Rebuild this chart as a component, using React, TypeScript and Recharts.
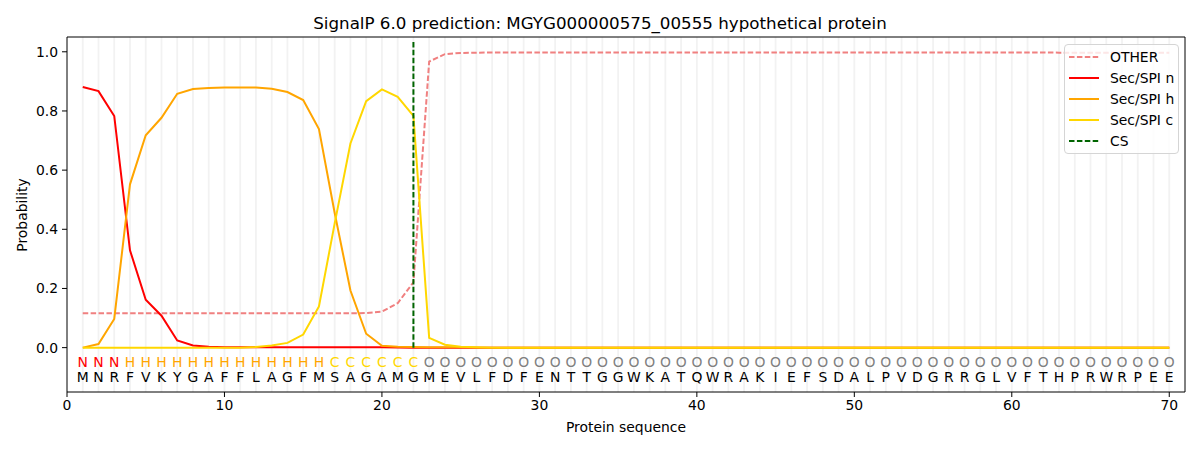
import React from "react";
import {
  ComposedChart,
  Line,
  Scatter,
  XAxis,
  YAxis,
  ReferenceLine,
} from "recharts";

const sequence = "MNRFVKYGAFFLAGFMSAGAMGMEVLFDFENTTGGWKATQWRAKIEFSDALPVDGRRGLVFTHPRWRPEE".split("");
const annotation = "NNNHHHHHHHHHHHHHCCCCCCOOOOOOOOOOOOOOOOOOOOOOOOOOOOOOOOOOOOOOOOOOOOOOOO".split("");

const otherProb = [
  0.116, 0.116, 0.116, 0.116, 0.116, 0.116, 0.116, 0.116, 0.116, 0.116,
  0.116, 0.116, 0.116, 0.116, 0.116, 0.116, 0.116, 0.116, 0.117, 0.122,
  0.15, 0.221, 0.967, 0.992, 0.996, 0.997, 0.998, 0.998, 0.998, 0.998,
  0.998, 0.998, 0.998, 0.998, 0.998, 0.998, 0.998, 0.998, 0.998, 0.998,
  0.998, 0.998, 0.998, 0.998, 0.998, 0.998, 0.998, 0.998, 0.998, 0.998,
  0.998, 0.998, 0.998, 0.998, 0.998, 0.998, 0.998, 0.998, 0.998, 0.998,
  0.998, 0.998, 0.997, 0.997, 0.997, 0.997, 0.997, 0.997, 0.997, 0.997,
];

const secN = [
  0.881, 0.867, 0.783, 0.329, 0.162, 0.108, 0.024, 0.007, 0.003, 0.001,
  0.001, 0.001, 0.001, 0.001, 0.001, 0.001, 0.001, 0.001, 0.001, 0.001,
  0, 0, 0, 0, 0, 0, 0, 0, 0, 0,
  0, 0, 0, 0, 0, 0, 0, 0, 0, 0,
  0, 0, 0, 0, 0, 0, 0, 0, 0, 0,
  0, 0, 0, 0, 0, 0, 0, 0, 0, 0,
  0, 0, 0, 0, 0, 0, 0, 0, 0, 0,
];

const secH = [
  0, 0.012, 0.097, 0.552, 0.718, 0.777, 0.858, 0.874, 0.878, 0.879,
  0.879, 0.879, 0.875, 0.864, 0.837, 0.739, 0.455, 0.193, 0.047, 0.006,
  0.003, 0.002, 0.001, 0.001, 0.001, 0, 0, 0, 0, 0,
  0, 0, 0, 0, 0, 0, 0, 0, 0, 0,
  0, 0, 0, 0, 0, 0, 0, 0, 0, 0,
  0, 0, 0, 0, 0, 0, 0, 0, 0, 0,
  0, 0, 0, 0, 0, 0, 0, 0, 0, 0,
];

const secC = [
  0, 0, 0, 0, 0, 0, 0, 0, 0, 0,
  0, 0.002, 0.007, 0.016, 0.044, 0.139, 0.42, 0.69, 0.833, 0.873,
  0.848, 0.783, 0.033, 0.01, 0.003, 0.001, 0, 0, 0, 0,
  0, 0, 0, 0, 0, 0, 0, 0, 0, 0,
  0, 0, 0, 0, 0, 0, 0, 0, 0, 0,
  0, 0, 0, 0, 0, 0, 0, 0, 0, 0,
  0, 0, 0, 0, 0, 0, 0, 0, 0, 0,
];

const csPosition = 22;
const xDomain = [0, 71];
const yDomain = [-0.15, 1.05];
const xTicks = [0, 10, 20, 30, 40, 50, 60, 70];
const yTicks = [0, 0.2, 0.4, 0.6, 0.8, 1.0];

const labelColors: Record<string, string> = {
  N: "#ff0000",
  H: "#ffa500",
  C: "#ffd700",
  O: "#808080",
};

const FONT = "'DejaVu Sans', sans-serif";
const DASH = "5.5 2.4";

const rows = sequence.map((aa, i) => ({
  x: i + 1,
  other: otherProb[i],
  n: secN[i],
  h: secH[i],
  c: secC[i],
}));

const annotRows = annotation.map((a, i) => ({ x: i + 1, y: -0.047, label: a }));
const seqRows = sequence.map((aa, i) => ({ x: i + 1, y: -0.098, label: aa }));

const legendItems = [
  { name: "OTHER", color: "#f08080", dashed: true },
  { name: "Sec/SPI n", color: "#ff0000", dashed: false },
  { name: "Sec/SPI h", color: "#ffa500", dashed: false },
  { name: "Sec/SPI c", color: "#ffd700", dashed: false },
  { name: "CS", color: "#006400", dashed: true },
];

function letterShape(colorFor: (l: string) => string) {
  return (props: any) => (
    <text
      x={props.cx}
      y={props.cy}
      textAnchor="middle"
      dominantBaseline="central"
      fontSize={13.9}
      fontFamily={FONT}
      fill={colorFor(props.payload.label)}
    >
      {props.payload.label}
    </text>
  );
}

export default function App() {
  const tickStyle = { fontSize: 13.9, fill: "#000", fontFamily: FONT };
  return (
    <div style={{ position: "absolute", left: 0, top: 0, width: 1200, height: 450, background: "#fff", fontFamily: FONT }}>
      <div style={{ position: "absolute", left: 0, width: 1200, top: 13, textAlign: "center", fontSize: 16.7, color: "#000" }}>
        SignalP 6.0 prediction: MGYG000000575_00555 hypothetical protein
      </div>
      <ComposedChart
        width={1200}
        height={450}
        data={rows}
        margin={{ top: 37, right: 15, left: 7, bottom: 28 }}
      >
        <XAxis
          dataKey="x"
          type="number"
          domain={xDomain}
          ticks={xTicks}
          tickSize={5}
          tickMargin={3}
          tick={tickStyle}
          stroke="#000"
          height={30}
          allowDataOverflow
        />
        <YAxis
          type="number"
          domain={yDomain}
          ticks={yTicks}
          tickFormatter={(v: number) => v.toFixed(1)}
          tickSize={5}
          tickMargin={4}
          tick={tickStyle}
          stroke="#000"
          width={60}
          allowDataOverflow
        />
        {rows.map((r) => (
          <ReferenceLine key={r.x} x={r.x} stroke="#f2f2f2" strokeWidth={1.8} />
        ))}
        <Line dataKey="other" stroke="#f08080" strokeWidth={2} strokeDasharray={DASH} dot={false} isAnimationActive={false} />
        <Line dataKey="n" stroke="#ff0000" strokeWidth={2} dot={false} isAnimationActive={false} />
        <Line dataKey="h" stroke="#ffa500" strokeWidth={2} dot={false} isAnimationActive={false} />
        <Line dataKey="c" stroke="#ffd700" strokeWidth={2} dot={false} isAnimationActive={false} />
        <ReferenceLine
          segment={[{ x: csPosition, y: 0 }, { x: csPosition, y: 1.04 }]}
          stroke="#006400"
          strokeWidth={2}
          strokeDasharray={DASH}
        />
        <Scatter data={annotRows} dataKey="y" isAnimationActive={false} shape={letterShape((l) => labelColors[l])} />
        <Scatter data={seqRows} dataKey="y" isAnimationActive={false} shape={letterShape(() => "#000")} />
        <ReferenceLine y={yDomain[1]} stroke="#000" strokeWidth={1} />
        <ReferenceLine x={xDomain[1]} stroke="#000" strokeWidth={1} />
      </ComposedChart>
      <div style={{ position: "absolute", left: 67, width: 1118, top: 419, textAlign: "center", fontSize: 13.9, color: "#000" }}>
        Protein sequence
      </div>
      <div
        style={{
          position: "absolute",
          left: 22,
          top: 215,
          transform: "translate(-50%, -50%) rotate(-90deg)",
          fontSize: 13.9,
          color: "#000",
          whiteSpace: "nowrap",
        }}
      >
        Probability
      </div>
      <div
        style={{
          position: "absolute",
          left: 1064,
          top: 44,
          width: 113,
          height: 108,
          border: "1px solid #d5d5d5",
          borderRadius: 4,
          background: "rgba(255,255,255,0.8)",
        }}
      >
        {legendItems.map((it, i) => (
          <div key={it.name} style={{ position: "absolute", left: 4, top: 3 + i * 21, height: 18, display: "flex", alignItems: "center" }}>
            <svg width={30} height={4} style={{ display: "block" }}>
              <line x1={0} y1={2} x2={30} y2={2} stroke={it.color} strokeWidth={2} strokeDasharray={it.dashed ? DASH : undefined} />
            </svg>
            <span style={{ marginLeft: 11, fontSize: 13.9, color: "#000", whiteSpace: "nowrap" }}>{it.name}</span>
          </div>
        ))}
      </div>
    </div>
  );
}
